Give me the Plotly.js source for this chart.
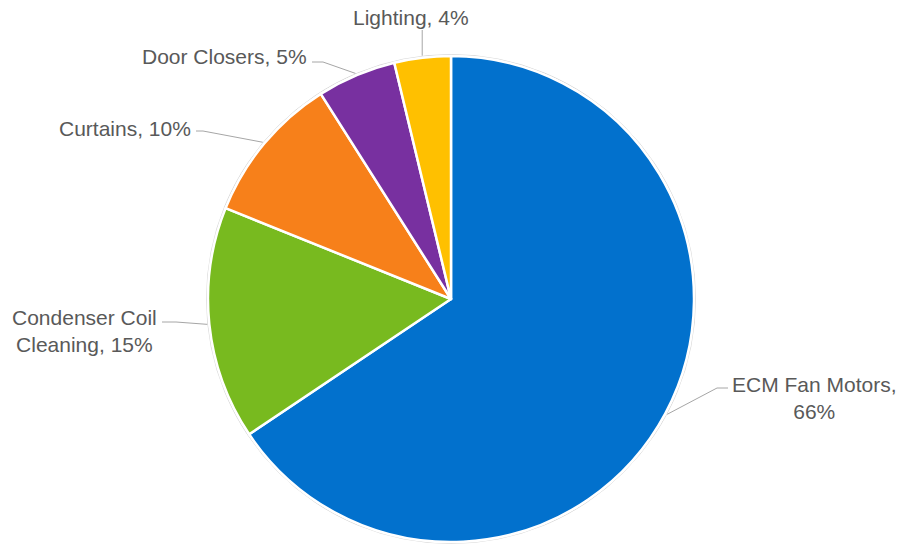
<!DOCTYPE html>
<html>
<head>
<meta charset="utf-8">
<script src="https://cdn.plot.ly/plotly-3.0.1.min.js"></script>
<style>html,body{margin:0;padding:0;background:#fff;}#chart{width:903px;height:546px;}</style>
</head>
<body>
<div id="chart"></div>
<script>
// ---- data ----
const labels = ["ECM Fan Motors", "Condenser Coil Cleaning", "Curtains", "Door Closers", "Lighting"];
const values = [65.6, 15.5, 9.9, 5.25, 3.75];
const labelText = ["ECM Fan Motors,<br>66%", "Condenser Coil<br>Cleaning, 15%", "Curtains, 10%", "Door Closers, 5%", "Lighting, 4%"];
const colors = ["#0271CD", "#78BA1F", "#F7801A", "#7830A0", "#FFC000"];

// ---- layout (pixels) ----
const W = 903, H = 546;
const cx = 451, cy = 299, R = 243;
// leader elbow / end points and text anchors (layout only)
const labelLayout = [
  {elbow:[717,388], end:[728,388], text:[730,398], xanchor:'left',  yanchor:'middle'},
  {elbow:[176,322], end:[162,322], text:[159,331], xanchor:'right', yanchor:'middle'},
  {elbow:[203,131], end:[196,131], text:[193,128], xanchor:'right', yanchor:'middle'},
  {elbow:[323,62],  end:[312,62],  text:[309,57],  xanchor:'right', yanchor:'middle'},
  {elbow:[null,30], end:[null,30], text:[411,31],  xanchor:'center',yanchor:'bottom'}
];

const px = x => x / W;
const py = y => 1 - y / H;

const total = values.reduce((a,b)=>a+b,0);
let cum = 0;
const shapes = [];
const annotations = [];
const lineStyle = {color:'#A6A6A6', width:1};

// faint outline around pie
shapes.push({type:'circle', xref:'paper', yref:'paper',
  x0:px(cx-R-1.5), x1:px(cx+R+1.5), y0:py(cy+R+1.5), y1:py(cy-R-1.5),
  line:{color:'#D9D9D9', width:1}, layer:'below'});

values.forEach((v,i)=>{
  const mid = (cum + v/2) / total;
  cum += v;
  const ang = mid * 2 * Math.PI; // clockwise from top
  const ex = cx + (R+2) * Math.sin(ang);
  const ey = cy - (R+2) * Math.cos(ang);
  const L = labelLayout[i];
  const elx = L.elbow[0] === null ? ex : L.elbow[0];
  const enx = L.end[0] === null ? ex : L.end[0];
  shapes.push({type:'line', xref:'paper', yref:'paper',
    x0:px(ex), y0:py(ey), x1:px(elx), y1:py(L.elbow[1]), line:lineStyle});
  shapes.push({type:'line', xref:'paper', yref:'paper',
    x0:px(elx), y0:py(L.elbow[1]), x1:px(enx), y1:py(L.end[1]), line:lineStyle});
  annotations.push({xref:'paper', yref:'paper', x:px(L.text[0]), y:py(L.text[1]),
    xanchor:L.xanchor, yanchor:L.yanchor, text:labelText[i], showarrow:false,
    align:'center', font:{family:'Liberation Sans, Arial, sans-serif', size:21, color:'#595959'}});
});

const trace = {
  type:'pie',
  labels: labels,
  values: values,
  sort:false,
  direction:'clockwise',
  rotation:0,
  textinfo:'none',
  hoverinfo:'label+percent',
  marker:{colors:colors, line:{color:'#FFFFFF', width:2.5}},
  domain:{x:[px(cx-R), px(cx+R)], y:[py(cy+R), py(cy-R)]}
};

const layout = {
  width:W, height:H,
  margin:{l:0,r:0,t:0,b:0},
  showlegend:false,
  paper_bgcolor:'#FFFFFF',
  shapes:shapes,
  annotations:annotations
};

Plotly.newPlot('chart', [trace], layout, {displayModeBar:false, staticPlot:true});
</script>
</body>
</html>
